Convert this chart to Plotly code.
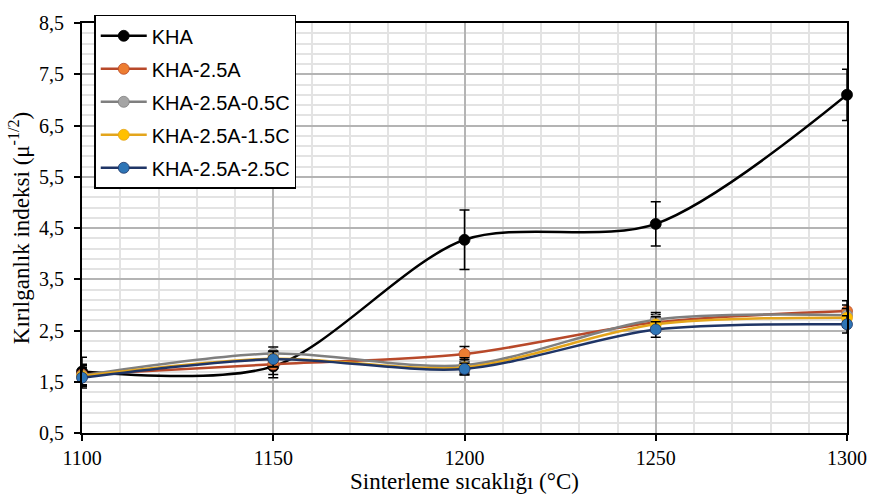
import plotly.graph_objects as go

temps = [1100, 1150, 1200, 1250, 1300]
names = ["KHA", "KHA-2.5A", "KHA-2.5A-0.5C", "KHA-2.5A-1.5C", "KHA-2.5A-2.5C"]
kha = [1.70, 1.80, 4.27, 4.58, 7.10]
kha_25a = [1.64, 1.84, 2.04, 2.66, 2.88]
kha_05c = [1.62, 2.05, 1.82, 2.71, 2.80]
kha_15c = [1.61, 1.95, 1.78, 2.62, 2.75]
kha_25c = [1.58, 1.94, 1.75, 2.52, 2.62]
err_kha = [0.28, 0.22, 0.58, 0.43, 0.50]
err_25a = [0.20, 0.20, 0.15, 0.15, 0.20]
err_05c = [0.20, 0.13, 0.15, 0.14, 0.20]
err_15c = [0.20, 0.15, 0.15, 0.15, 0.18]
err_25c = [0.20, 0.15, 0.11, 0.15, 0.17]

series = [kha, kha_25a, kha_05c, kha_15c, kha_25c]
errors = [err_kha, err_25a, err_05c, err_15c, err_25c]
line_colors = ["#000000", "#B8492A", "#7F7F7F", "#E3A51C", "#1F3566"]
marker_colors = ["#000000", "#ED7D31", "#A5A5A5", "#FFC000", "#2E75B6"]

serif = "Liberation Serif, Times New Roman, serif"

fig = go.Figure()
for i, (nm, ys, er) in enumerate(zip(names, series, errors)):
    fig.add_trace(go.Scatter(
        x=temps, y=ys, name=nm, mode="lines+markers",
        legendgroup=nm,
        line=dict(color=line_colors[i], width=2.5, shape="spline", smoothing=0.85),
        marker=dict(color=marker_colors[i], size=11,
                    line=dict(color=line_colors[i], width=0.8)),
        error_y=dict(type="data", array=er, visible=True, color="#000000",
                     thickness=1.5, width=5),
        cliponaxis=False,
    ))

fig.update_layout(
    width=879, height=503,
    margin=dict(l=82, r=28, t=13, b=70),
    paper_bgcolor="white", plot_bgcolor="white",
    separators=",.",
    showlegend=True,
    legend=dict(
        x=0.016, y=1.02, xanchor="left", yanchor="top",
        bgcolor="white", bordercolor="#000000", borderwidth=1.5,
        font=dict(family="Liberation Sans, Arial", size=20, color="#000000"),
        tracegroupgap=4, traceorder="grouped", itemwidth=46,
    ),
    xaxis=dict(
        range=[1100, 1300], tickvals=temps, tickformat="d",
        showline=True, linecolor="#000000", linewidth=2, mirror=True,
        ticks="outside", ticklen=6, tickwidth=1.5, tickcolor="#000000",
        showgrid=True, gridcolor="#B4B4B4", gridwidth=1.5,
        minor=dict(dtick=10, showgrid=True, gridcolor="#E3E3E3", gridwidth=1.5),
        tickfont=dict(family=serif, size=20, color="#000000"),
        title=dict(text="Sinterleme sıcaklığı (°C)", standoff=3,
                   font=dict(family=serif, size=23, color="#000000")),
        zeroline=False,
    ),
    yaxis=dict(
        range=[0.5, 8.5], dtick=1, tick0=0.5, tickformat=".1f",
        showline=True, linecolor="#000000", linewidth=2, mirror=True,
        ticks="outside", ticklen=6, tickwidth=1.5, tickcolor="#000000",
        ticklabelstandoff=6,
        showgrid=True, gridcolor="#B4B4B4", gridwidth=1.5,
        minor=dict(dtick=0.2, tick0=0.5, showgrid=True, gridcolor="#E3E3E3", gridwidth=1.5),
        tickfont=dict(family=serif, size=20, color="#000000"),
        title=dict(text="Kırılganlık indeksi (μ<sup>-1/2</sup>)", standoff=3,
                   font=dict(family=serif, size=23, color="#000000")),
        zeroline=False,
    ),
)

fig.write_html("out.html")
